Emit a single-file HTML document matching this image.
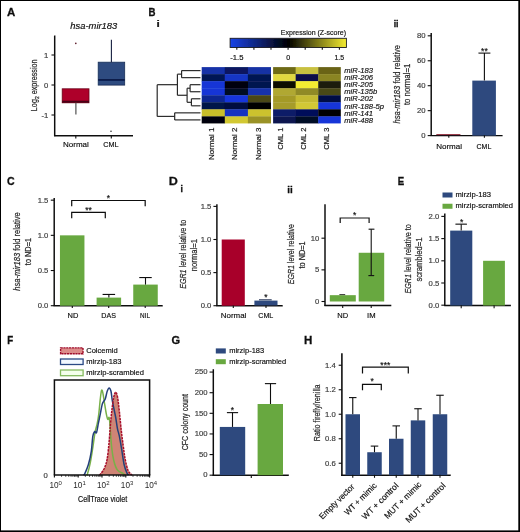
<!DOCTYPE html>
<html><head><meta charset="utf-8"><style>
html,body{margin:0;padding:0;background:#fff;overflow:hidden;}
svg{display:block;font-family:"Liberation Sans", sans-serif;will-change:transform;}
</style></head><body>
<svg width="520" height="532" viewBox="0 0 520 532">
<rect x="0" y="0" width="520" height="532" fill="#000"/>
<rect x="1" y="1" width="517.3" height="529.4" fill="#fff"/>
<defs><filter id="soft" x="0" y="0" width="520" height="532" filterUnits="userSpaceOnUse"><feGaussianBlur stdDeviation="0.4"/></filter></defs>
<g filter="url(#soft)">
<text transform="translate(7.01,16.20) scale(1.025,1)" font-size="11.19" font-weight="bold" fill="#111" stroke="#111" stroke-width="0.29">A</text>
<text x="70.30" y="29.40" font-size="8.6" font-style="italic" textLength="47.00" lengthAdjust="spacingAndGlyphs" stroke="#2a2a2a" stroke-width="0.18">hsa-mir183</text>
<rect x="62.20" y="88.80" width="26.80" height="14.00" fill="#ae0029" stroke="#6a0018" stroke-width="0.8" />
<line x1="62.20" y1="101.70" x2="89.00" y2="101.70" stroke="#4a0012" stroke-width="2.0" />
<line x1="75.90" y1="102.80" x2="75.90" y2="114.60" stroke="#444" stroke-width="1.1" />
<circle cx="75.8" cy="43.3" r="0.85" fill="#602030"/>
<rect x="98.20" y="62.20" width="26.50" height="22.90" fill="#2f4b80" stroke="#1a2d55" stroke-width="0.8" />
<line x1="98.20" y1="79.90" x2="124.70" y2="79.90" stroke="#0a1a4a" stroke-width="1.8" />
<line x1="111.40" y1="39.80" x2="111.40" y2="62.20" stroke="#1a2040" stroke-width="1.1" />
<circle cx="111" cy="131.2" r="0.8" fill="#333"/>
<line x1="54.70" y1="35.50" x2="54.70" y2="136.20" stroke="#111" stroke-width="1.5" />
<line x1="54.10" y1="135.70" x2="133.00" y2="135.70" stroke="#111" stroke-width="1.45" />
<line x1="51.50" y1="55.00" x2="54.70" y2="55.00" stroke="#111" stroke-width="1.1" />
<text x="48.40" y="57.60" font-size="7.7" text-anchor="end" fill="#3c3c3c" stroke="#3c3c3c" stroke-width="0.18">1</text>
<line x1="51.50" y1="85.00" x2="54.70" y2="85.00" stroke="#111" stroke-width="1.1" />
<text x="48.40" y="87.60" font-size="7.7" text-anchor="end" fill="#3c3c3c" stroke="#3c3c3c" stroke-width="0.18">0</text>
<line x1="51.50" y1="115.00" x2="54.70" y2="115.00" stroke="#111" stroke-width="1.1" />
<text x="48.40" y="117.60" font-size="7.7" text-anchor="end" fill="#3c3c3c" stroke="#3c3c3c" stroke-width="0.18">-1</text>
<line x1="75.80" y1="135.60" x2="75.80" y2="138.60" stroke="#111" stroke-width="1.1" />
<line x1="111.30" y1="135.60" x2="111.30" y2="138.60" stroke="#111" stroke-width="1.1" />
<text x="75.90" y="147.30" font-size="8" text-anchor="middle" textLength="25.80" lengthAdjust="spacingAndGlyphs" stroke="#2a2a2a" stroke-width="0.18">Normal</text>
<text x="110.90" y="147.30" font-size="8" text-anchor="middle" textLength="15.30" lengthAdjust="spacingAndGlyphs" stroke="#2a2a2a" stroke-width="0.18">CML</text>
<text transform="translate(37.00,85.30) rotate(-90)" font-size="8.8" text-anchor="middle" fill="#2a2a2a" stroke="#2a2a2a" stroke-width="0.22" textLength="51.70" lengthAdjust="spacingAndGlyphs">Log<tspan font-size="6" dy="2">2</tspan><tspan dy="-2"> expression</tspan></text>
<text transform="translate(148.45,16.20) scale(0.864,1)" font-size="11.19" font-weight="bold" fill="#111" stroke="#111" stroke-width="0.35">B</text>
<text transform="translate(156.38,26.50) scale(1.323,1)" font-size="8.83" font-weight="bold" fill="#111" stroke="#111" stroke-width="0.23">i</text>
<defs><linearGradient id="cb" x1="0" x2="1" y1="0" y2="0"><stop offset="0" stop-color="#1a44e8"/><stop offset="0.5" stop-color="#000"/><stop offset="1" stop-color="#f4ec30"/></linearGradient></defs>
<rect x="230.10" y="38.30" width="116.30" height="9.20" fill="url(#cb)" stroke="#1a1a20" stroke-width="0.9" />
<line x1="236.80" y1="47.50" x2="236.80" y2="49.80" stroke="#111" stroke-width="1.1" />
<line x1="253.90" y1="47.50" x2="253.90" y2="49.80" stroke="#111" stroke-width="1.1" />
<line x1="271.00" y1="47.50" x2="271.00" y2="49.80" stroke="#111" stroke-width="1.1" />
<line x1="288.10" y1="47.50" x2="288.10" y2="49.80" stroke="#111" stroke-width="1.1" />
<line x1="305.20" y1="47.50" x2="305.20" y2="49.80" stroke="#111" stroke-width="1.1" />
<line x1="322.30" y1="47.50" x2="322.30" y2="49.80" stroke="#111" stroke-width="1.1" />
<line x1="339.40" y1="47.50" x2="339.40" y2="49.80" stroke="#111" stroke-width="1.1" />
<text x="243.40" y="59.50" font-size="7" text-anchor="end" textLength="13.20" lengthAdjust="spacingAndGlyphs" stroke="#2a2a2a" stroke-width="0.18">-1.5</text>
<text x="288.10" y="59.50" font-size="7" text-anchor="middle" stroke="#2a2a2a" stroke-width="0.18">0</text>
<text x="339.30" y="59.50" font-size="7" text-anchor="middle" textLength="9.60" lengthAdjust="spacingAndGlyphs" stroke="#2a2a2a" stroke-width="0.18">1.5</text>
<text x="280.80" y="34.90" font-size="7.2" textLength="65.20" lengthAdjust="spacingAndGlyphs" stroke="#2a2a2a" stroke-width="0.18">Expression (Z-score)</text>
<rect x="201.70" y="67.10" width="23.40" height="7.34" fill="#1432a8" />
<rect x="273.10" y="67.10" width="22.87" height="7.34" fill="#6e6a18" />
<rect x="224.80" y="67.10" width="23.40" height="7.34" fill="#071660" />
<rect x="295.67" y="67.10" width="22.87" height="7.34" fill="#c8c040" />
<rect x="247.90" y="67.10" width="23.10" height="7.34" fill="#1430a4" />
<rect x="318.24" y="67.10" width="22.57" height="7.34" fill="#6a6418" />
<rect x="201.70" y="74.14" width="23.40" height="7.34" fill="#061454" />
<rect x="273.10" y="74.14" width="22.87" height="7.34" fill="#e0d840" />
<rect x="224.80" y="74.14" width="23.40" height="7.34" fill="#1236c4" />
<rect x="295.67" y="74.14" width="22.87" height="7.34" fill="#080e48" />
<rect x="247.90" y="74.14" width="23.10" height="7.34" fill="#061452" />
<rect x="318.24" y="74.14" width="22.57" height="7.34" fill="#8a8420" />
<rect x="201.70" y="81.18" width="23.40" height="7.34" fill="#1236d6" />
<rect x="273.10" y="81.18" width="22.87" height="7.34" fill="#0a0a05" />
<rect x="224.80" y="81.18" width="23.40" height="7.34" fill="#00000a" />
<rect x="295.67" y="81.18" width="22.87" height="7.34" fill="#f4ec30" />
<rect x="247.90" y="81.18" width="23.10" height="7.34" fill="#061250" />
<rect x="318.24" y="81.18" width="22.57" height="7.34" fill="#1a1a08" />
<rect x="201.70" y="88.22" width="23.40" height="7.34" fill="#1236d6" />
<rect x="273.10" y="88.22" width="22.87" height="7.34" fill="#b0a830" />
<rect x="224.80" y="88.22" width="23.40" height="7.34" fill="#030820" />
<rect x="295.67" y="88.22" width="22.87" height="7.34" fill="#908a28" />
<rect x="247.90" y="88.22" width="23.10" height="7.34" fill="#1230ac" />
<rect x="318.24" y="88.22" width="22.57" height="7.34" fill="#4a4818" />
<rect x="201.70" y="95.26" width="23.40" height="7.34" fill="#0f2890" />
<rect x="273.10" y="95.26" width="22.87" height="7.34" fill="#a49a28" />
<rect x="224.80" y="95.26" width="23.40" height="7.34" fill="#1236dc" />
<rect x="295.67" y="95.26" width="22.87" height="7.34" fill="#c4ba30" />
<rect x="247.90" y="95.26" width="23.10" height="7.34" fill="#4a4612" />
<rect x="318.24" y="95.26" width="22.57" height="7.34" fill="#060e44" />
<rect x="201.70" y="102.30" width="23.40" height="7.34" fill="#061248" />
<rect x="273.10" y="102.30" width="22.87" height="7.34" fill="#a69c2a" />
<rect x="224.80" y="102.30" width="23.40" height="7.34" fill="#050f40" />
<rect x="295.67" y="102.30" width="22.87" height="7.34" fill="#d2c834" />
<rect x="247.90" y="102.30" width="23.10" height="7.34" fill="#050505" />
<rect x="318.24" y="102.30" width="22.57" height="7.34" fill="#1236d8" />
<rect x="201.70" y="109.34" width="23.40" height="7.34" fill="#c8be2c" />
<rect x="273.10" y="109.34" width="22.87" height="7.34" fill="#0a1a68" />
<rect x="224.80" y="109.34" width="23.40" height="7.34" fill="#1232c0" />
<rect x="295.67" y="109.34" width="22.87" height="7.34" fill="#06105a" />
<rect x="247.90" y="109.34" width="23.10" height="7.34" fill="#ccc22e" />
<rect x="318.24" y="109.34" width="22.57" height="7.34" fill="#040406" />
<rect x="201.70" y="116.38" width="23.40" height="7.04" fill="#03040e" />
<rect x="273.10" y="116.38" width="22.87" height="7.04" fill="#081450" />
<rect x="224.80" y="116.38" width="23.40" height="7.04" fill="#d2c830" />
<rect x="295.67" y="116.38" width="22.87" height="7.04" fill="#030828" />
<rect x="247.90" y="116.38" width="23.10" height="7.04" fill="#9a9226" />
<rect x="318.24" y="116.38" width="22.57" height="7.04" fill="#1236d8" />
<line x1="181.60" y1="70.62" x2="200.50" y2="70.62" stroke="#222" stroke-width="1.15" />
<line x1="181.60" y1="77.66" x2="200.50" y2="77.66" stroke="#222" stroke-width="1.15" />
<line x1="181.60" y1="70.62" x2="181.60" y2="77.66" stroke="#222" stroke-width="1.15" />
<line x1="190.10" y1="84.70" x2="200.50" y2="84.70" stroke="#222" stroke-width="1.15" />
<line x1="190.10" y1="91.74" x2="200.50" y2="91.74" stroke="#222" stroke-width="1.15" />
<line x1="190.10" y1="84.70" x2="190.10" y2="91.74" stroke="#222" stroke-width="1.15" />
<line x1="191.40" y1="98.78" x2="200.50" y2="98.78" stroke="#222" stroke-width="1.15" />
<line x1="191.40" y1="105.82" x2="200.50" y2="105.82" stroke="#222" stroke-width="1.15" />
<line x1="191.40" y1="98.78" x2="191.40" y2="105.82" stroke="#222" stroke-width="1.15" />
<line x1="187.10" y1="88.22" x2="190.10" y2="88.22" stroke="#222" stroke-width="1.15" />
<line x1="187.10" y1="102.30" x2="191.40" y2="102.30" stroke="#222" stroke-width="1.15" />
<line x1="187.10" y1="88.22" x2="187.10" y2="102.30" stroke="#222" stroke-width="1.15" />
<line x1="177.40" y1="74.14" x2="181.60" y2="74.14" stroke="#222" stroke-width="1.15" />
<line x1="177.40" y1="95.26" x2="187.10" y2="95.26" stroke="#222" stroke-width="1.15" />
<line x1="177.40" y1="74.14" x2="177.40" y2="95.26" stroke="#222" stroke-width="1.15" />
<line x1="174.70" y1="112.86" x2="200.50" y2="112.86" stroke="#222" stroke-width="1.15" />
<line x1="174.70" y1="119.90" x2="200.50" y2="119.90" stroke="#222" stroke-width="1.15" />
<line x1="174.70" y1="112.86" x2="174.70" y2="119.90" stroke="#222" stroke-width="1.15" />
<line x1="157.20" y1="84.70" x2="177.40" y2="84.70" stroke="#222" stroke-width="1.15" />
<line x1="157.20" y1="116.38" x2="174.70" y2="116.38" stroke="#222" stroke-width="1.15" />
<line x1="157.20" y1="84.70" x2="157.20" y2="116.38" stroke="#222" stroke-width="1.15" />
<text x="344.20" y="73.32" font-size="7.6" font-style="italic" stroke="#2a2a2a" stroke-width="0.18">miR-183</text>
<text x="344.20" y="80.36" font-size="7.6" font-style="italic" stroke="#2a2a2a" stroke-width="0.18">miR-206</text>
<text x="344.20" y="87.40" font-size="7.6" font-style="italic" stroke="#2a2a2a" stroke-width="0.18">miR-205</text>
<text x="344.20" y="94.44" font-size="7.6" font-style="italic" stroke="#2a2a2a" stroke-width="0.18">miR-135b</text>
<text x="344.20" y="101.48" font-size="7.6" font-style="italic" stroke="#2a2a2a" stroke-width="0.18">miR-202</text>
<text x="344.20" y="108.52" font-size="7.6" font-style="italic" stroke="#2a2a2a" stroke-width="0.18">miR-188-5p</text>
<text x="344.20" y="115.56" font-size="7.6" font-style="italic" stroke="#2a2a2a" stroke-width="0.18">miR-141</text>
<text x="344.20" y="122.60" font-size="7.6" font-style="italic" stroke="#2a2a2a" stroke-width="0.18">miR-488</text>
<text transform="translate(213.60,127.60) rotate(-90)" font-size="8" text-anchor="end" textLength="32.40" lengthAdjust="spacingAndGlyphs" stroke="#2a2a2a" stroke-width="0.18">Normal 1</text>
<text transform="translate(236.90,127.60) rotate(-90)" font-size="8" text-anchor="end" textLength="32.40" lengthAdjust="spacingAndGlyphs" stroke="#2a2a2a" stroke-width="0.18">Normal 2</text>
<text transform="translate(260.60,127.60) rotate(-90)" font-size="8" text-anchor="end" textLength="32.40" lengthAdjust="spacingAndGlyphs" stroke="#2a2a2a" stroke-width="0.18">Normal 3</text>
<text transform="translate(283.30,127.60) rotate(-90)" font-size="8" text-anchor="end" textLength="22.10" lengthAdjust="spacingAndGlyphs" stroke="#2a2a2a" stroke-width="0.18">CML 1</text>
<text transform="translate(306.10,127.60) rotate(-90)" font-size="8" text-anchor="end" textLength="22.10" lengthAdjust="spacingAndGlyphs" stroke="#2a2a2a" stroke-width="0.18">CML 2</text>
<text transform="translate(329.00,127.60) rotate(-90)" font-size="8" text-anchor="end" textLength="22.10" lengthAdjust="spacingAndGlyphs" stroke="#2a2a2a" stroke-width="0.18">CML 3</text>
<text transform="translate(393.69,26.60) scale(0.998,1)" font-size="8.69" font-weight="bold" fill="#111" stroke="#111" stroke-width="0.30">ii</text>
<line x1="431.20" y1="33.00" x2="431.20" y2="135.80" stroke="#111" stroke-width="1.5" />
<line x1="430.60" y1="135.60" x2="502.60" y2="135.60" stroke="#111" stroke-width="1.45" />
<line x1="427.70" y1="135.60" x2="431.20" y2="135.60" stroke="#111" stroke-width="1.1" />
<text x="425.60" y="138.20" font-size="7.7" text-anchor="end" fill="#3c3c3c" stroke="#3c3c3c" stroke-width="0.18">0</text>
<line x1="427.70" y1="110.65" x2="431.20" y2="110.65" stroke="#111" stroke-width="1.1" />
<text x="425.60" y="113.25" font-size="7.7" text-anchor="end" fill="#3c3c3c" stroke="#3c3c3c" stroke-width="0.18">20</text>
<line x1="427.70" y1="85.70" x2="431.20" y2="85.70" stroke="#111" stroke-width="1.1" />
<text x="425.60" y="88.30" font-size="7.7" text-anchor="end" fill="#3c3c3c" stroke="#3c3c3c" stroke-width="0.18">40</text>
<line x1="427.70" y1="60.75" x2="431.20" y2="60.75" stroke="#111" stroke-width="1.1" />
<text x="425.60" y="63.35" font-size="7.7" text-anchor="end" fill="#3c3c3c" stroke="#3c3c3c" stroke-width="0.18">60</text>
<line x1="427.70" y1="35.80" x2="431.20" y2="35.80" stroke="#111" stroke-width="1.1" />
<text x="425.60" y="38.40" font-size="7.7" text-anchor="end" fill="#3c3c3c" stroke="#3c3c3c" stroke-width="0.18">80</text>
<rect x="436.30" y="134.20" width="24.10" height="0.90" fill="#801020" />
<rect x="472.30" y="80.60" width="23.60" height="55.00" fill="#2d4a7e" />
<line x1="484.40" y1="80.60" x2="484.40" y2="53.10" stroke="#111" stroke-width="1.1" />
<line x1="478.45" y1="53.10" x2="490.35" y2="53.10" stroke="#111" stroke-width="1.1" />
<text x="484.40" y="53.80" font-size="8.5" text-anchor="middle" stroke="#2a2a2a" stroke-width="0.18">**</text>
<line x1="448.80" y1="135.20" x2="448.80" y2="137.80" stroke="#111" stroke-width="1.1" />
<line x1="484.40" y1="135.20" x2="484.40" y2="137.80" stroke="#111" stroke-width="1.1" />
<text x="449.10" y="148.60" font-size="8" text-anchor="middle" textLength="25.90" lengthAdjust="spacingAndGlyphs" stroke="#2a2a2a" stroke-width="0.18">Normal</text>
<text x="483.90" y="148.60" font-size="8" text-anchor="middle" textLength="14.80" lengthAdjust="spacingAndGlyphs" stroke="#2a2a2a" stroke-width="0.18">CML</text>
<text transform="translate(400.20,84.25) rotate(-90)" font-size="8.5" text-anchor="middle" fill="#2a2a2a" stroke="#2a2a2a" stroke-width="0.22" textLength="78.60" lengthAdjust="spacingAndGlyphs"><tspan font-style="italic">hsa-mir183</tspan> fold relative</text>
<text transform="translate(410.30,84.40) rotate(-90)" font-size="8.5" text-anchor="middle" fill="#2a2a2a" stroke="#2a2a2a" stroke-width="0.22" textLength="41.30" lengthAdjust="spacingAndGlyphs">to normal=1</text>
<text transform="translate(7.07,184.89) scale(0.922,1)" font-size="11.44" font-weight="bold" fill="#111" stroke="#111" stroke-width="0.33">C</text>
<line x1="54.20" y1="198.00" x2="54.20" y2="305.90" stroke="#111" stroke-width="1.5" />
<line x1="53.60" y1="305.70" x2="162.70" y2="305.70" stroke="#111" stroke-width="1.45" />
<line x1="72.30" y1="305.40" x2="72.30" y2="308.00" stroke="#111" stroke-width="1.1" />
<line x1="108.70" y1="305.40" x2="108.70" y2="308.00" stroke="#111" stroke-width="1.1" />
<line x1="145.20" y1="305.40" x2="145.20" y2="308.00" stroke="#111" stroke-width="1.1" />
<line x1="50.80" y1="305.70" x2="54.20" y2="305.70" stroke="#111" stroke-width="1.1" />
<text x="48.40" y="308.30" font-size="7.7" text-anchor="end" fill="#3c3c3c" stroke="#3c3c3c" stroke-width="0.18">0.0</text>
<line x1="50.80" y1="270.52" x2="54.20" y2="270.52" stroke="#111" stroke-width="1.1" />
<text x="48.40" y="273.12" font-size="7.7" text-anchor="end" fill="#3c3c3c" stroke="#3c3c3c" stroke-width="0.18">0.5</text>
<line x1="50.80" y1="235.35" x2="54.20" y2="235.35" stroke="#111" stroke-width="1.1" />
<text x="48.40" y="237.95" font-size="7.7" text-anchor="end" fill="#3c3c3c" stroke="#3c3c3c" stroke-width="0.18">1.0</text>
<line x1="50.80" y1="200.18" x2="54.20" y2="200.18" stroke="#111" stroke-width="1.1" />
<text x="48.40" y="202.78" font-size="7.7" text-anchor="end" fill="#3c3c3c" stroke="#3c3c3c" stroke-width="0.18">1.5</text>
<rect x="59.95" y="235.35" width="24.50" height="70.35" fill="#68a83f" />
<rect x="96.60" y="297.61" width="24.50" height="8.09" fill="#68a83f" />
<line x1="108.85" y1="297.61" x2="108.85" y2="294.44" stroke="#111" stroke-width="1.1" />
<line x1="102.60" y1="294.44" x2="115.10" y2="294.44" stroke="#111" stroke-width="1.1" />
<rect x="133.25" y="284.59" width="24.50" height="21.11" fill="#68a83f" />
<line x1="145.50" y1="284.59" x2="145.50" y2="277.56" stroke="#111" stroke-width="1.1" />
<line x1="139.25" y1="277.56" x2="151.75" y2="277.56" stroke="#111" stroke-width="1.1" />
<text x="73.00" y="317.80" font-size="8" text-anchor="middle" textLength="10.80" lengthAdjust="spacingAndGlyphs" stroke="#2a2a2a" stroke-width="0.18">ND</text>
<text x="108.65" y="317.80" font-size="8" text-anchor="middle" textLength="14.60" lengthAdjust="spacingAndGlyphs" stroke="#2a2a2a" stroke-width="0.18">DAS</text>
<text x="145.10" y="317.80" font-size="8" text-anchor="middle" textLength="10.00" lengthAdjust="spacingAndGlyphs" stroke="#2a2a2a" stroke-width="0.18">NIL</text>
<path d="M71.70,206.20 V200.50 H145.20 V206.20" stroke="#111" stroke-width="1.2" fill="none" />
<text x="108.30" y="200.70" font-size="8.5" text-anchor="middle" stroke="#2a2a2a" stroke-width="0.18">*</text>
<path d="M71.70,218.30 V212.30 H105.30 V218.30" stroke="#111" stroke-width="1.2" fill="none" />
<text x="88.50" y="212.80" font-size="8.5" text-anchor="middle" stroke="#2a2a2a" stroke-width="0.18">**</text>
<text transform="translate(20.40,251.45) rotate(-90)" font-size="8.5" text-anchor="middle" fill="#2a2a2a" stroke="#2a2a2a" stroke-width="0.22" textLength="78.40" lengthAdjust="spacingAndGlyphs"><tspan font-style="italic">hsa-mir183</tspan> fold relative</text>
<text transform="translate(31.20,251.55) rotate(-90)" font-size="8.5" text-anchor="middle" fill="#2a2a2a" stroke="#2a2a2a" stroke-width="0.22" textLength="27.20" lengthAdjust="spacingAndGlyphs">to ND=1</text>
<text transform="translate(168.66,185.00) scale(1.122,1)" font-size="11.19" font-weight="bold" fill="#111" stroke="#111" stroke-width="0.27">D</text>
<text transform="translate(180.59,192.20) scale(1.076,1)" font-size="8.14" font-weight="bold" fill="#111" stroke="#111" stroke-width="0.28">i</text>
<line x1="216.90" y1="204.20" x2="216.90" y2="306.00" stroke="#111" stroke-width="1.5" />
<line x1="216.30" y1="305.70" x2="282.70" y2="305.70" stroke="#111" stroke-width="1.45" />
<line x1="213.40" y1="305.70" x2="216.90" y2="305.70" stroke="#111" stroke-width="1.1" />
<text x="211.40" y="308.30" font-size="7.7" text-anchor="end" fill="#3c3c3c" stroke="#3c3c3c" stroke-width="0.18">0.0</text>
<line x1="213.40" y1="272.60" x2="216.90" y2="272.60" stroke="#111" stroke-width="1.1" />
<text x="211.40" y="275.20" font-size="7.7" text-anchor="end" fill="#3c3c3c" stroke="#3c3c3c" stroke-width="0.18">0.5</text>
<line x1="213.40" y1="239.50" x2="216.90" y2="239.50" stroke="#111" stroke-width="1.1" />
<text x="211.40" y="242.10" font-size="7.7" text-anchor="end" fill="#3c3c3c" stroke="#3c3c3c" stroke-width="0.18">1.0</text>
<line x1="213.40" y1="206.40" x2="216.90" y2="206.40" stroke="#111" stroke-width="1.1" />
<text x="211.40" y="209.00" font-size="7.7" text-anchor="end" fill="#3c3c3c" stroke="#3c3c3c" stroke-width="0.18">1.5</text>
<rect x="221.70" y="239.50" width="23.10" height="66.20" fill="#a8002c" />
<rect x="254.40" y="300.60" width="23.10" height="4.80" fill="#2d4a7e" />
<line x1="259.00" y1="299.80" x2="271.70" y2="299.80" stroke="#1a2a50" stroke-width="1.0" />
<text x="266.00" y="300.00" font-size="8.5" text-anchor="middle" stroke="#2a2a2a" stroke-width="0.18">*</text>
<line x1="233.30" y1="305.40" x2="233.30" y2="308.00" stroke="#111" stroke-width="1.1" />
<line x1="266.00" y1="305.40" x2="266.00" y2="308.00" stroke="#111" stroke-width="1.1" />
<text x="233.55" y="318.00" font-size="8" text-anchor="middle" textLength="25.60" lengthAdjust="spacingAndGlyphs" stroke="#2a2a2a" stroke-width="0.18">Normal</text>
<text x="265.80" y="318.00" font-size="8" text-anchor="middle" textLength="15.10" lengthAdjust="spacingAndGlyphs" stroke="#2a2a2a" stroke-width="0.18">CML</text>
<text transform="translate(186.20,254.35) rotate(-90)" font-size="8.5" text-anchor="middle" fill="#2a2a2a" stroke="#2a2a2a" stroke-width="0.22" textLength="69.00" lengthAdjust="spacingAndGlyphs"><tspan font-style="italic">EGR1</tspan> level relative to</text>
<text transform="translate(197.00,255.10) rotate(-90)" font-size="8.5" text-anchor="middle" fill="#2a2a2a" stroke="#2a2a2a" stroke-width="0.22" textLength="32.10" lengthAdjust="spacingAndGlyphs">normal=1</text>
<text transform="translate(287.31,192.50) scale(1.069,1)" font-size="9.24" font-weight="bold" fill="#111" stroke="#111" stroke-width="0.28">ii</text>
<line x1="325.00" y1="204.20" x2="325.00" y2="306.00" stroke="#111" stroke-width="1.5" />
<line x1="324.40" y1="305.50" x2="391.30" y2="305.50" stroke="#111" stroke-width="1.45" />
<line x1="321.50" y1="301.50" x2="325.00" y2="301.50" stroke="#111" stroke-width="1.1" />
<text x="319.40" y="304.10" font-size="7.7" text-anchor="end" fill="#3c3c3c" stroke="#3c3c3c" stroke-width="0.18">0</text>
<line x1="321.50" y1="269.85" x2="325.00" y2="269.85" stroke="#111" stroke-width="1.1" />
<text x="319.40" y="272.45" font-size="7.7" text-anchor="end" fill="#3c3c3c" stroke="#3c3c3c" stroke-width="0.18">5</text>
<line x1="321.50" y1="238.20" x2="325.00" y2="238.20" stroke="#111" stroke-width="1.1" />
<text x="319.40" y="240.80" font-size="7.7" text-anchor="end" fill="#3c3c3c" stroke="#3c3c3c" stroke-width="0.18">10</text>
<rect x="329.80" y="295.17" width="26.00" height="6.33" fill="#68a83f" />
<line x1="339.40" y1="294.60" x2="345.20" y2="294.60" stroke="#333" stroke-width="1.0" />
<rect x="358.70" y="252.76" width="25.50" height="48.74" fill="#68a83f" />
<line x1="371.20" y1="229.20" x2="371.20" y2="275.60" stroke="#111" stroke-width="1.1" />
<line x1="368.60" y1="229.20" x2="374.40" y2="229.20" stroke="#111" stroke-width="1.1" />
<line x1="368.40" y1="275.60" x2="374.20" y2="275.60" stroke="#111" stroke-width="1.1" />
<line x1="342.70" y1="305.40" x2="342.70" y2="308.00" stroke="#111" stroke-width="1.1" />
<line x1="371.20" y1="305.40" x2="371.20" y2="308.00" stroke="#111" stroke-width="1.1" />
<text x="342.70" y="318.00" font-size="8" text-anchor="middle" textLength="10.90" lengthAdjust="spacingAndGlyphs" stroke="#2a2a2a" stroke-width="0.18">ND</text>
<text x="371.30" y="318.00" font-size="8" text-anchor="middle" textLength="8.50" lengthAdjust="spacingAndGlyphs" stroke="#2a2a2a" stroke-width="0.18">IM</text>
<path d="M340.20,223.00 V218.00 H369.10 V223.00" stroke="#111" stroke-width="1.2" fill="none" />
<text x="354.70" y="218.40" font-size="8.5" text-anchor="middle" stroke="#2a2a2a" stroke-width="0.18">*</text>
<text transform="translate(294.00,254.15) rotate(-90)" font-size="8.5" text-anchor="middle" fill="#2a2a2a" stroke="#2a2a2a" stroke-width="0.22" textLength="60.20" lengthAdjust="spacingAndGlyphs"><tspan font-style="italic">EGR1</tspan> level relative</text>
<text transform="translate(305.00,254.95) rotate(-90)" font-size="8.5" text-anchor="middle" fill="#2a2a2a" stroke="#2a2a2a" stroke-width="0.22" textLength="27.20" lengthAdjust="spacingAndGlyphs">to ND=1</text>
<text transform="translate(397.76,184.90) scale(0.860,1)" font-size="11.19" font-weight="bold" fill="#111" stroke="#111" stroke-width="0.35">E</text>
<rect x="442.50" y="192.50" width="10.00" height="5.00" fill="#2d4a7e" />
<text x="455.50" y="196.90" font-size="7.6" textLength="35.50" lengthAdjust="spacingAndGlyphs" stroke="#2a2a2a" stroke-width="0.18">mirzip-183</text>
<rect x="442.50" y="203.75" width="10.00" height="5.00" fill="#68a83f" />
<text x="455.50" y="208.00" font-size="7.6" textLength="57.50" lengthAdjust="spacingAndGlyphs" stroke="#2a2a2a" stroke-width="0.18">mirzip-scrambled</text>
<line x1="444.80" y1="213.60" x2="444.80" y2="306.10" stroke="#111" stroke-width="1.5" />
<line x1="444.20" y1="305.50" x2="510.90" y2="305.50" stroke="#111" stroke-width="1.45" />
<line x1="441.30" y1="305.20" x2="444.80" y2="305.20" stroke="#111" stroke-width="1.1" />
<text x="439.30" y="307.80" font-size="7.7" text-anchor="end" fill="#3c3c3c" stroke="#3c3c3c" stroke-width="0.18">0.0</text>
<line x1="441.30" y1="283.00" x2="444.80" y2="283.00" stroke="#111" stroke-width="1.1" />
<text x="439.30" y="285.60" font-size="7.7" text-anchor="end" fill="#3c3c3c" stroke="#3c3c3c" stroke-width="0.18">0.5</text>
<line x1="441.30" y1="260.80" x2="444.80" y2="260.80" stroke="#111" stroke-width="1.1" />
<text x="439.30" y="263.40" font-size="7.7" text-anchor="end" fill="#3c3c3c" stroke="#3c3c3c" stroke-width="0.18">1.0</text>
<line x1="441.30" y1="238.60" x2="444.80" y2="238.60" stroke="#111" stroke-width="1.1" />
<text x="439.30" y="241.20" font-size="7.7" text-anchor="end" fill="#3c3c3c" stroke="#3c3c3c" stroke-width="0.18">1.5</text>
<line x1="441.30" y1="216.40" x2="444.80" y2="216.40" stroke="#111" stroke-width="1.1" />
<text x="439.30" y="219.00" font-size="7.7" text-anchor="end" fill="#3c3c3c" stroke="#3c3c3c" stroke-width="0.18">2.0</text>
<rect x="450.20" y="230.61" width="22.10" height="74.89" fill="#2d4a7e" />
<line x1="461.20" y1="230.61" x2="461.20" y2="224.17" stroke="#111" stroke-width="1.1" />
<line x1="455.45" y1="224.17" x2="466.95" y2="224.17" stroke="#111" stroke-width="1.1" />
<text x="461.75" y="224.95" font-size="8.5" text-anchor="middle" stroke="#2a2a2a" stroke-width="0.18">*</text>
<rect x="483.10" y="260.80" width="21.80" height="44.70" fill="#68a83f" />
<line x1="461.20" y1="305.20" x2="461.20" y2="308.30" stroke="#111" stroke-width="1.1" />
<line x1="494.10" y1="305.20" x2="494.10" y2="308.30" stroke="#111" stroke-width="1.1" />
<text transform="translate(411.10,258.90) rotate(-90)" font-size="8.5" text-anchor="middle" fill="#2a2a2a" stroke="#2a2a2a" stroke-width="0.22" textLength="69.10" lengthAdjust="spacingAndGlyphs"><tspan font-style="italic">EGR1</tspan> level relative to</text>
<text transform="translate(421.70,259.55) rotate(-90)" font-size="8.5" text-anchor="middle" fill="#2a2a2a" stroke="#2a2a2a" stroke-width="0.22" textLength="44.00" lengthAdjust="spacingAndGlyphs">scrambled=1</text>
<text transform="translate(7.35,344.20) scale(0.864,1)" font-size="11.19" font-weight="bold" fill="#111" stroke="#111" stroke-width="0.35">F</text>
<rect x="60.60" y="347.90" width="22.40" height="5.80" fill="#dc8c8a" stroke="#a0102c" stroke-width="1.4" stroke-dasharray="2.2,0.6"/>
<rect x="60.50" y="359.00" width="22.60" height="5.50" fill="#f2f8ff" stroke="#2a4a85" stroke-width="1.3" />
<rect x="60.50" y="370.00" width="22.60" height="5.70" fill="#f4ffec" stroke="#86bb60" stroke-width="1.3" />
<text x="86.20" y="353.10" font-size="8" textLength="31.50" lengthAdjust="spacingAndGlyphs" stroke="#2a2a2a" stroke-width="0.18">Colcemid</text>
<text x="86.20" y="364.20" font-size="8" textLength="35.30" lengthAdjust="spacingAndGlyphs" stroke="#2a2a2a" stroke-width="0.18">mirzip-183</text>
<text x="86.20" y="375.20" font-size="8" textLength="57.80" lengthAdjust="spacingAndGlyphs" stroke="#2a2a2a" stroke-width="0.18">mirzip-scrambled</text>
<path d="M99.50,475.10 C99.68,474.90 99.78,475.05 100.60,473.90 C101.42,472.75 103.30,470.72 104.40,468.20 C105.50,465.68 106.42,463.17 107.20,458.80 C107.98,454.43 108.57,447.63 109.10,442.00 C109.63,436.37 109.93,430.33 110.40,425.00 C110.87,419.67 111.33,414.68 111.90,410.00 C112.47,405.32 113.17,399.87 113.80,396.90 C114.43,393.93 115.08,392.20 115.70,392.20 C116.32,392.20 116.88,393.62 117.50,396.90 C118.12,400.18 118.77,406.27 119.40,411.90 C120.03,417.53 120.67,425.07 121.30,430.70 C121.93,436.33 122.57,441.02 123.20,445.70 C123.83,450.38 124.32,454.73 125.10,458.80 C125.88,462.87 126.97,467.58 127.90,470.10 C128.83,472.62 130.02,473.07 130.70,473.90 C131.38,474.73 131.78,474.90 132.00,475.10 Z" stroke="none" stroke-width="0" fill="#cf8474" />
<path d="M86.50,475.10 C86.67,474.90 86.87,475.98 87.50,473.90 C88.13,471.82 89.42,466.98 90.30,462.60 C91.18,458.22 92.02,452.60 92.80,447.60 C93.58,442.60 94.25,436.67 95.00,432.60 C95.75,428.53 96.67,426.33 97.30,423.20 C97.93,420.07 98.30,417.87 98.80,413.80 C99.30,409.73 99.83,402.72 100.30,398.80 C100.77,394.88 101.17,391.25 101.60,390.30 C102.03,389.35 102.43,391.07 102.90,393.10 C103.37,395.13 103.83,399.05 104.40,402.50 C104.97,405.95 105.73,410.98 106.30,413.80 C106.87,416.62 107.33,418.78 107.80,419.40 C108.27,420.02 108.73,416.57 109.10,417.50 C109.47,418.43 109.60,420.30 110.00,425.00 C110.40,429.70 110.87,439.75 111.50,445.70 C112.13,451.65 112.80,456.63 113.80,460.70 C114.80,464.77 115.93,467.97 117.50,470.10 C119.07,472.23 121.95,472.67 123.20,473.50 C124.45,474.33 124.70,474.83 125.00,475.10" stroke="#78b048" stroke-width="1.5" fill="none" />
<path d="M83.50,475.10 C83.70,474.90 83.88,475.67 84.70,473.90 C85.52,472.13 87.30,468.27 88.40,464.50 C89.50,460.73 90.57,456.00 91.30,451.30 C92.03,446.60 92.25,439.58 92.80,436.30 C93.35,433.02 93.98,432.22 94.60,431.60 C95.22,430.98 95.87,434.00 96.50,432.60 C97.13,431.20 97.77,426.33 98.40,423.20 C99.03,420.07 99.67,416.93 100.30,413.80 C100.93,410.67 101.67,406.43 102.20,404.40 C102.73,402.37 102.98,402.53 103.50,401.60 C104.02,400.67 104.68,400.52 105.30,398.80 C105.92,397.08 106.57,393.12 107.20,391.30 C107.83,389.48 108.47,387.90 109.10,387.90 C109.73,387.90 110.47,389.18 111.00,391.30 C111.53,393.42 111.83,397.78 112.30,400.60 C112.77,403.42 113.23,405.38 113.80,408.20 C114.37,411.02 115.08,414.07 115.70,417.50 C116.32,420.93 116.88,425.67 117.50,428.80 C118.12,431.93 118.70,432.85 119.40,436.30 C120.10,439.75 120.92,444.80 121.70,449.50 C122.48,454.20 123.23,460.60 124.10,464.50 C124.97,468.40 126.17,471.13 126.90,472.90 C127.63,474.67 128.23,474.73 128.50,475.10" stroke="#243f7a" stroke-width="1.5" fill="none" />
<path d="M99.50,475.10 C99.68,474.90 99.78,475.05 100.60,473.90 C101.42,472.75 103.30,470.72 104.40,468.20 C105.50,465.68 106.42,463.17 107.20,458.80 C107.98,454.43 108.57,447.63 109.10,442.00 C109.63,436.37 109.93,430.33 110.40,425.00 C110.87,419.67 111.33,414.68 111.90,410.00 C112.47,405.32 113.17,399.87 113.80,396.90 C114.43,393.93 115.08,392.20 115.70,392.20 C116.32,392.20 116.88,393.62 117.50,396.90 C118.12,400.18 118.77,406.27 119.40,411.90 C120.03,417.53 120.67,425.07 121.30,430.70 C121.93,436.33 122.57,441.02 123.20,445.70 C123.83,450.38 124.32,454.73 125.10,458.80 C125.88,462.87 126.97,467.58 127.90,470.10 C128.83,472.62 130.02,473.07 130.70,473.90 C131.38,474.73 131.78,474.90 132.00,475.10" stroke="#a8102c" stroke-width="1.5" fill="none" stroke-dasharray="2.4,0.8"/>
<path d="M54.4,475.1 V380 H149.6 V475.1" stroke="#111" stroke-width="1.5" fill="none" />
<line x1="53.80" y1="475.10" x2="150.30" y2="475.10" stroke="#111" stroke-width="1.5" />
<line x1="54.40" y1="475.10" x2="54.40" y2="477.60" stroke="#111" stroke-width="1.1" />
<line x1="61.56" y1="475.10" x2="61.56" y2="476.80" stroke="#111" stroke-width="0.8" />
<line x1="65.76" y1="475.10" x2="65.76" y2="476.80" stroke="#111" stroke-width="0.8" />
<line x1="68.73" y1="475.10" x2="68.73" y2="476.80" stroke="#111" stroke-width="0.8" />
<line x1="71.04" y1="475.10" x2="71.04" y2="476.80" stroke="#111" stroke-width="0.8" />
<line x1="72.92" y1="475.10" x2="72.92" y2="476.80" stroke="#111" stroke-width="0.8" />
<line x1="74.51" y1="475.10" x2="74.51" y2="476.80" stroke="#111" stroke-width="0.8" />
<line x1="75.89" y1="475.10" x2="75.89" y2="476.80" stroke="#111" stroke-width="0.8" />
<line x1="77.11" y1="475.10" x2="77.11" y2="476.80" stroke="#111" stroke-width="0.8" />
<line x1="78.20" y1="475.10" x2="78.20" y2="477.60" stroke="#111" stroke-width="1.1" />
<line x1="85.36" y1="475.10" x2="85.36" y2="476.80" stroke="#111" stroke-width="0.8" />
<line x1="89.56" y1="475.10" x2="89.56" y2="476.80" stroke="#111" stroke-width="0.8" />
<line x1="92.53" y1="475.10" x2="92.53" y2="476.80" stroke="#111" stroke-width="0.8" />
<line x1="94.84" y1="475.10" x2="94.84" y2="476.80" stroke="#111" stroke-width="0.8" />
<line x1="96.72" y1="475.10" x2="96.72" y2="476.80" stroke="#111" stroke-width="0.8" />
<line x1="98.31" y1="475.10" x2="98.31" y2="476.80" stroke="#111" stroke-width="0.8" />
<line x1="99.69" y1="475.10" x2="99.69" y2="476.80" stroke="#111" stroke-width="0.8" />
<line x1="100.91" y1="475.10" x2="100.91" y2="476.80" stroke="#111" stroke-width="0.8" />
<line x1="102.00" y1="475.10" x2="102.00" y2="477.60" stroke="#111" stroke-width="1.1" />
<line x1="109.16" y1="475.10" x2="109.16" y2="476.80" stroke="#111" stroke-width="0.8" />
<line x1="113.36" y1="475.10" x2="113.36" y2="476.80" stroke="#111" stroke-width="0.8" />
<line x1="116.33" y1="475.10" x2="116.33" y2="476.80" stroke="#111" stroke-width="0.8" />
<line x1="118.64" y1="475.10" x2="118.64" y2="476.80" stroke="#111" stroke-width="0.8" />
<line x1="120.52" y1="475.10" x2="120.52" y2="476.80" stroke="#111" stroke-width="0.8" />
<line x1="122.11" y1="475.10" x2="122.11" y2="476.80" stroke="#111" stroke-width="0.8" />
<line x1="123.49" y1="475.10" x2="123.49" y2="476.80" stroke="#111" stroke-width="0.8" />
<line x1="124.71" y1="475.10" x2="124.71" y2="476.80" stroke="#111" stroke-width="0.8" />
<line x1="125.80" y1="475.10" x2="125.80" y2="477.60" stroke="#111" stroke-width="1.1" />
<line x1="132.96" y1="475.10" x2="132.96" y2="476.80" stroke="#111" stroke-width="0.8" />
<line x1="137.16" y1="475.10" x2="137.16" y2="476.80" stroke="#111" stroke-width="0.8" />
<line x1="140.13" y1="475.10" x2="140.13" y2="476.80" stroke="#111" stroke-width="0.8" />
<line x1="142.44" y1="475.10" x2="142.44" y2="476.80" stroke="#111" stroke-width="0.8" />
<line x1="144.32" y1="475.10" x2="144.32" y2="476.80" stroke="#111" stroke-width="0.8" />
<line x1="145.91" y1="475.10" x2="145.91" y2="476.80" stroke="#111" stroke-width="0.8" />
<line x1="147.29" y1="475.10" x2="147.29" y2="476.80" stroke="#111" stroke-width="0.8" />
<line x1="148.51" y1="475.10" x2="148.51" y2="476.80" stroke="#111" stroke-width="0.8" />
<line x1="149.60" y1="475.10" x2="149.60" y2="477.60" stroke="#111" stroke-width="1.1" />
<text x="47.80" y="477.70" font-size="7.7" text-anchor="end" fill="#3c3c3c" stroke="#3c3c3c" stroke-width="0.18">0</text>
<text x="55.70" y="488.2" font-size="8.2" text-anchor="middle" fill="#2a2a2a">10<tspan font-size="6" dy="-3.4">0</tspan></text>
<text x="79.50" y="488.2" font-size="8.2" text-anchor="middle" fill="#2a2a2a">10<tspan font-size="6" dy="-3.4">1</tspan></text>
<text x="103.30" y="488.2" font-size="8.2" text-anchor="middle" fill="#2a2a2a">10<tspan font-size="6" dy="-3.4">2</tspan></text>
<text x="127.10" y="488.2" font-size="8.2" text-anchor="middle" fill="#2a2a2a">10<tspan font-size="6" dy="-3.4">3</tspan></text>
<text x="150.90" y="488.2" font-size="8.2" text-anchor="middle" fill="#2a2a2a">10<tspan font-size="6" dy="-3.4">4</tspan></text>
<text x="102.60" y="502.00" font-size="9" text-anchor="middle" textLength="49.20" lengthAdjust="spacingAndGlyphs" stroke="#2a2a2a" stroke-width="0.18">CellTrace violet</text>
<text transform="translate(171.54,344.29) scale(0.971,1)" font-size="11.44" font-weight="bold" fill="#111" stroke="#111" stroke-width="0.31">G</text>
<rect x="215.80" y="348.40" width="10.00" height="5.10" fill="#2d4a7e" />
<text x="229.20" y="353.10" font-size="7.6" textLength="35.00" lengthAdjust="spacingAndGlyphs" stroke="#2a2a2a" stroke-width="0.18">mirzip-183</text>
<rect x="215.80" y="359.20" width="10.00" height="5.00" fill="#68a83f" />
<text x="229.20" y="364.20" font-size="7.6" textLength="57.00" lengthAdjust="spacingAndGlyphs" stroke="#2a2a2a" stroke-width="0.18">mirzip-scrambled</text>
<line x1="213.30" y1="369.20" x2="213.30" y2="475.90" stroke="#111" stroke-width="1.5" />
<line x1="212.60" y1="475.20" x2="288.80" y2="475.20" stroke="#111" stroke-width="1.45" />
<line x1="209.60" y1="475.20" x2="213.30" y2="475.20" stroke="#111" stroke-width="1.1" />
<text x="207.50" y="477.40" font-size="7.7" text-anchor="end" fill="#3c3c3c" stroke="#3c3c3c" stroke-width="0.18">0</text>
<line x1="209.60" y1="454.57" x2="213.30" y2="454.57" stroke="#111" stroke-width="1.1" />
<text x="207.50" y="456.78" font-size="7.7" text-anchor="end" fill="#3c3c3c" stroke="#3c3c3c" stroke-width="0.18">50</text>
<line x1="209.60" y1="433.95" x2="213.30" y2="433.95" stroke="#111" stroke-width="1.1" />
<text x="207.50" y="436.15" font-size="7.7" text-anchor="end" fill="#3c3c3c" stroke="#3c3c3c" stroke-width="0.18">100</text>
<line x1="209.60" y1="413.32" x2="213.30" y2="413.32" stroke="#111" stroke-width="1.1" />
<text x="207.50" y="415.53" font-size="7.7" text-anchor="end" fill="#3c3c3c" stroke="#3c3c3c" stroke-width="0.18">150</text>
<line x1="209.60" y1="392.70" x2="213.30" y2="392.70" stroke="#111" stroke-width="1.1" />
<text x="207.50" y="394.90" font-size="7.7" text-anchor="end" fill="#3c3c3c" stroke="#3c3c3c" stroke-width="0.18">200</text>
<line x1="209.60" y1="372.07" x2="213.30" y2="372.07" stroke="#111" stroke-width="1.1" />
<text x="207.50" y="374.28" font-size="7.7" text-anchor="end" fill="#3c3c3c" stroke="#3c3c3c" stroke-width="0.18">250</text>
<rect x="219.80" y="426.94" width="25.40" height="48.26" fill="#2d4a7e" />
<line x1="232.50" y1="426.94" x2="232.50" y2="412.62" stroke="#111" stroke-width="1.1" />
<line x1="226.90" y1="412.62" x2="238.10" y2="412.62" stroke="#111" stroke-width="1.1" />
<text x="232.50" y="413.20" font-size="8.5" text-anchor="middle" stroke="#2a2a2a" stroke-width="0.18">*</text>
<rect x="257.60" y="404.00" width="25.40" height="71.20" fill="#68a83f" />
<line x1="270.50" y1="404.00" x2="270.50" y2="383.62" stroke="#111" stroke-width="1.1" />
<line x1="264.90" y1="383.62" x2="276.10" y2="383.62" stroke="#111" stroke-width="1.1" />
<line x1="251.30" y1="475.30" x2="251.30" y2="477.90" stroke="#111" stroke-width="1.1" />
<text transform="translate(187.60,422.20) rotate(-90)" font-size="8.5" text-anchor="middle" fill="#2a2a2a" stroke="#2a2a2a" stroke-width="0.22" textLength="56.30" lengthAdjust="spacingAndGlyphs">CFC colony count</text>
<text transform="translate(304.03,344.30) scale(1.033,1)" font-size="11.19" font-weight="bold" fill="#111" stroke="#111" stroke-width="0.29">H</text>
<line x1="341.90" y1="353.20" x2="341.90" y2="475.90" stroke="#111" stroke-width="1.6" />
<line x1="341.20" y1="475.20" x2="450.70" y2="475.20" stroke="#111" stroke-width="1.45" />
<line x1="338.70" y1="463.25" x2="341.90" y2="463.25" stroke="#111" stroke-width="1.1" />
<text x="335.70" y="465.85" font-size="7.7" text-anchor="end" fill="#3c3c3c" stroke="#3c3c3c" stroke-width="0.18">0.6</text>
<line x1="338.70" y1="438.75" x2="341.90" y2="438.75" stroke="#111" stroke-width="1.1" />
<text x="335.70" y="441.35" font-size="7.7" text-anchor="end" fill="#3c3c3c" stroke="#3c3c3c" stroke-width="0.18">0.8</text>
<line x1="338.70" y1="414.25" x2="341.90" y2="414.25" stroke="#111" stroke-width="1.1" />
<text x="335.70" y="416.85" font-size="7.7" text-anchor="end" fill="#3c3c3c" stroke="#3c3c3c" stroke-width="0.18">1.0</text>
<line x1="338.70" y1="389.75" x2="341.90" y2="389.75" stroke="#111" stroke-width="1.1" />
<text x="335.70" y="392.35" font-size="7.7" text-anchor="end" fill="#3c3c3c" stroke="#3c3c3c" stroke-width="0.18">1.2</text>
<line x1="338.70" y1="365.25" x2="341.90" y2="365.25" stroke="#111" stroke-width="1.1" />
<text x="335.70" y="367.85" font-size="7.7" text-anchor="end" fill="#3c3c3c" stroke="#3c3c3c" stroke-width="0.18">1.4</text>
<rect x="345.50" y="414.25" width="14.50" height="60.95" fill="#2d4a7e" />
<line x1="352.75" y1="414.25" x2="352.75" y2="397.59" stroke="#111" stroke-width="1.1" />
<line x1="349.00" y1="397.59" x2="356.50" y2="397.59" stroke="#111" stroke-width="1.1" />
<line x1="352.75" y1="474.80" x2="352.75" y2="477.80" stroke="#111" stroke-width="1.1" />
<rect x="367.25" y="452.23" width="14.50" height="22.97" fill="#2d4a7e" />
<line x1="374.50" y1="452.23" x2="374.50" y2="446.10" stroke="#111" stroke-width="1.1" />
<line x1="370.75" y1="446.10" x2="378.25" y2="446.10" stroke="#111" stroke-width="1.1" />
<line x1="374.50" y1="474.80" x2="374.50" y2="477.80" stroke="#111" stroke-width="1.1" />
<rect x="389.00" y="438.75" width="14.50" height="36.45" fill="#2d4a7e" />
<line x1="396.25" y1="438.75" x2="396.25" y2="425.89" stroke="#111" stroke-width="1.1" />
<line x1="392.50" y1="425.89" x2="400.00" y2="425.89" stroke="#111" stroke-width="1.1" />
<line x1="396.25" y1="474.80" x2="396.25" y2="477.80" stroke="#111" stroke-width="1.1" />
<rect x="410.75" y="420.38" width="14.50" height="54.82" fill="#2d4a7e" />
<line x1="418.00" y1="420.38" x2="418.00" y2="408.74" stroke="#111" stroke-width="1.1" />
<line x1="414.25" y1="408.74" x2="421.75" y2="408.74" stroke="#111" stroke-width="1.1" />
<line x1="418.00" y1="474.80" x2="418.00" y2="477.80" stroke="#111" stroke-width="1.1" />
<rect x="432.75" y="414.25" width="14.50" height="60.95" fill="#2d4a7e" />
<line x1="440.00" y1="414.25" x2="440.00" y2="395.26" stroke="#111" stroke-width="1.1" />
<line x1="436.25" y1="395.26" x2="443.75" y2="395.26" stroke="#111" stroke-width="1.1" />
<line x1="440.00" y1="474.80" x2="440.00" y2="477.80" stroke="#111" stroke-width="1.1" />
<path d="M362.50,373.50 V367.10 H408.30 V373.50" stroke="#111" stroke-width="1.2" fill="none" />
<text x="385.30" y="367.50" font-size="8.5" text-anchor="middle" stroke="#2a2a2a" stroke-width="0.18">***</text>
<path d="M362.50,390.20 V384.40 H381.30 V390.20" stroke="#111" stroke-width="1.2" fill="none" />
<text x="372.10" y="384.30" font-size="8.5" text-anchor="middle" stroke="#2a2a2a" stroke-width="0.18">*</text>
<text transform="translate(355.05,487.30) rotate(-45)" font-size="8.5" text-anchor="end" textLength="46.00" lengthAdjust="spacingAndGlyphs" stroke="#2a2a2a" stroke-width="0.18">Empty vector</text>
<text transform="translate(377.20,486.30) rotate(-45)" font-size="8.5" text-anchor="end" textLength="41.80" lengthAdjust="spacingAndGlyphs" stroke="#2a2a2a" stroke-width="0.18">WT + mimic</text>
<text transform="translate(398.95,486.30) rotate(-45)" font-size="8.5" text-anchor="end" textLength="47.50" lengthAdjust="spacingAndGlyphs" stroke="#2a2a2a" stroke-width="0.18">WT + control</text>
<text transform="translate(422.00,485.00) rotate(-45)" font-size="8.5" text-anchor="end" textLength="48.40" lengthAdjust="spacingAndGlyphs" stroke="#2a2a2a" stroke-width="0.18">MUT + mimic</text>
<text transform="translate(446.00,486.30) rotate(-45)" font-size="8.5" text-anchor="end" textLength="52.30" lengthAdjust="spacingAndGlyphs" stroke="#2a2a2a" stroke-width="0.18">MUT + control</text>
<text transform="translate(319.50,412.85) rotate(-90)" font-size="8.5" text-anchor="middle" fill="#2a2a2a" stroke="#2a2a2a" stroke-width="0.22" textLength="56.80" lengthAdjust="spacingAndGlyphs">Ratio firefly/renilla</text>
</g>
</svg>
</body></html>
